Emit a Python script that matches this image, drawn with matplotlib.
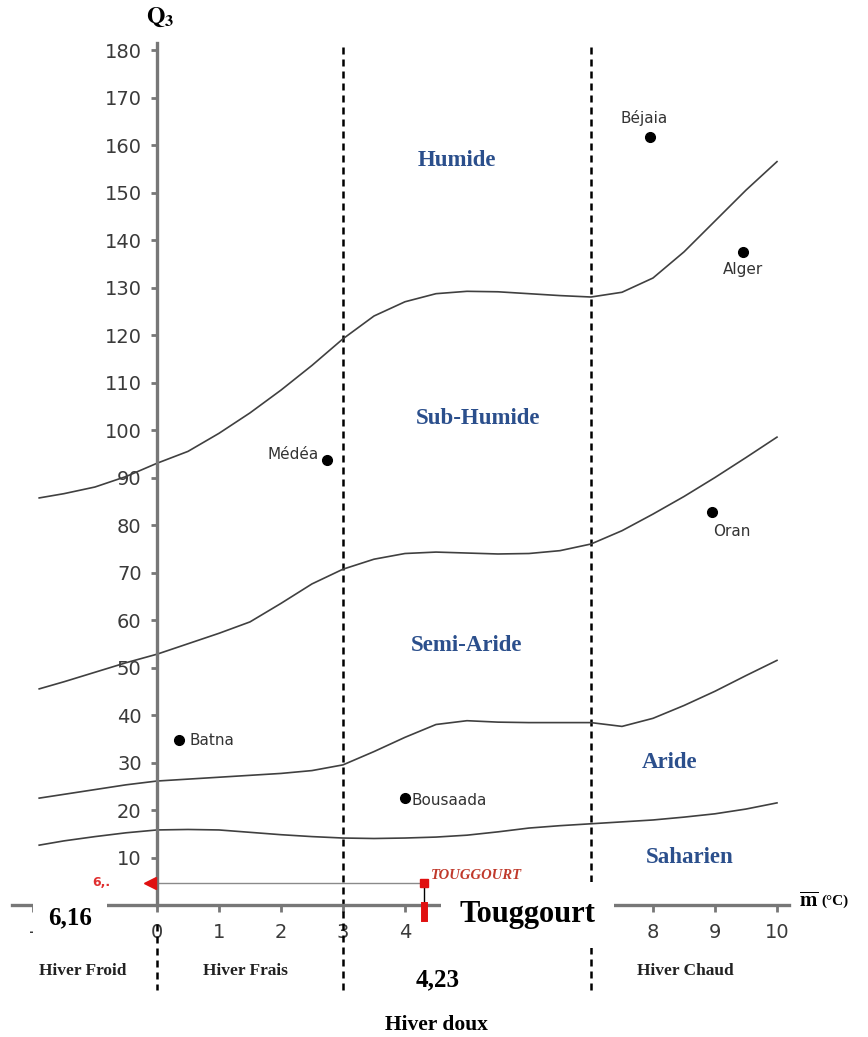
import matplotlib.pyplot as plt
from matplotlib import transforms

plt.rcParams['mathtext.fontset'] = 'stix'

# limit curves of the Emberger climagram (m in degC, Q3)
m_pts = [-1.9, -1.5, -1, -0.5, 0, 0.5, 1, 1.5, 2, 2.5, 3, 3.5, 4, 4.5, 5,
         5.5, 6, 6.5, 7, 7.5, 8, 8.5, 9, 9.5, 10]
humide_limit = [85.7, 86.6, 88.0, 90.2, 93.0, 95.5, 99.3, 103.6, 108.4, 113.6,
                119.2, 124.0, 127.0, 128.7, 129.2, 129.1, 128.7, 128.3, 128.0,
                129.0, 132.0, 137.5, 144.0, 150.5, 156.5]
subhumide_limit = [45.5, 47.0, 49.0, 51.0, 52.8, 55.0, 57.2, 59.6, 63.5, 67.6,
                   70.7, 72.8, 74.0, 74.3, 74.1, 73.9, 74.0, 74.6, 76.0, 78.8,
                   82.3, 86.0, 90.0, 94.2, 98.5]
semiaride_limit = [22.5, 23.3, 24.3, 25.3, 26.1, 26.5, 26.9, 27.3, 27.7, 28.3,
                   29.5, 32.3, 35.3, 38.0, 38.8, 38.5, 38.4, 38.4, 38.4, 37.6,
                   39.3, 42.0, 45.0, 48.3, 51.5]
aride_limit = [12.6, 13.5, 14.4, 15.2, 15.8, 15.9, 15.8, 15.3, 14.8, 14.4,
               14.1, 14.0, 14.1, 14.3, 14.7, 15.4, 16.2, 16.7, 17.1, 17.5,
               17.9, 18.5, 19.2, 20.2, 21.5]

stations = ['Béjaia', 'Alger', 'Médéa', 'Oran', 'Batna', 'Bousaada']
station_m = [7.95, 9.45, 2.75, 8.95, 0.35, 4.0]
station_q3 = [161.6, 137.4, 93.6, 82.7, 34.7, 22.6]
label_offsets = [(-4, 14), (0, -12), (-6, 4), (14, -14), (8, 0), (5, -2)]
label_align = ['center', 'center', 'right', 'center', 'left', 'left']

zones = ['Humide', 'Sub-Humide', 'Semi-Aride', 'Aride', 'Saharien']
zone_m = [4.84, 5.18, 5.0, 8.27, 8.6]
zone_q3 = [156.8, 102.5, 54.7, 29.9, 10.1]

# x tick labels (those under the white boxes are not visible in the original)
x_ticks = list(range(-2, 11))
x_ticklabels = ['-', '', '0', '1', '2', '3', '4', '', '', '', '8', '9', '10']

winter_limits = [0, 3, 7]
winters = ['Hiver Froid', 'Hiver Frais', 'Hiver Chaud']
winter_m = [-1.2, 1.42, 8.52]

tg_m = 4.3
tg_q3 = 4.7

fig = plt.figure(figsize=(8.68, 10.37), dpi=100)
ax = fig.add_axes([0, 0, 1, 1])
ax.set_xlim(-2.532, 11.468)
ax.set_ylim(-27.79, 190.53)

axis_col = '#777777'
for s in ['top', 'right']:
    ax.spines[s].set_visible(False)
ax.spines['left'].set_position(('data', 0))
ax.spines['bottom'].set_position(('data', 0))
ax.spines['left'].set_bounds(0, 181.5)
ax.spines['bottom'].set_bounds(-2.34, 10.2)
for s in ['left', 'bottom']:
    ax.spines[s].set_color(axis_col)
    ax.spines[s].set_linewidth(2.4)
    ax.spines[s].set_zorder(3)

ax.set_yticks(range(10, 190, 10))
ax.set_xticks(x_ticks)
ax.set_xticklabels(x_ticklabels)
ax.tick_params(axis='y', direction='out', length=4, width=2, color=axis_col,
               labelsize=14, labelcolor='#3a3a3a', pad=7)
ax.tick_params(axis='x', direction='out', length=5, width=2, color=axis_col,
               labelsize=14, labelcolor='#3a3a3a', pad=8)

# dashed winter limits
for xv in winter_limits[1:]:
    ax.plot([xv, xv], [-18, 181.5], color='black', lw=1.8, ls=(0, (2.8, 2)), zorder=2)
ax.plot([0, 0], [-4, -18], color='black', lw=1.8, ls=(0, (2.8, 2)), zorder=2)

for curve in [humide_limit, subhumide_limit, semiaride_limit, aride_limit]:
    ax.plot(m_pts, curve, color='#404040', lw=1.2, zorder=2)

ax.plot(station_m, station_q3, 'o', color='black', markersize=7, zorder=4)
for name, xm, yq, off, ha in zip(stations, station_m, station_q3, label_offsets, label_align):
    ax.annotate(name, (xm, yq), xytext=off, textcoords='offset points',
                ha=ha, va='center', fontsize=11, color='#333333')

for name, xm, yq in zip(zones, zone_m, zone_q3):
    ax.text(xm, yq, name, ha='center', va='center', fontsize=16.5,
            fontweight='bold', family='Liberation Serif', color='#2B4F8C')

for name, xm in zip(winters, winter_m):
    ax.text(xm, -13.8, name, ha='center', va='center', fontsize=12.5,
            fontweight='bold', family='Liberation Serif', color='#222222')

# Touggourt position
ax.plot([0, tg_m], [tg_q3, tg_q3], color='#8a8a8a', lw=1.0, zorder=3)
ax.plot([tg_m, tg_m], [0, tg_q3], color='black', lw=1.0, zorder=3)
shift_left = transforms.offset_copy(ax.transData, fig=fig, x=-7, y=0, units='dots')
ax.plot([0], [tg_q3], marker='<', color='#e01010', markersize=9, transform=shift_left, zorder=4)
ax.plot([tg_m], [tg_q3], marker='s', color='#e01010', markersize=6, zorder=4)
ax.plot([tg_m, tg_m], [0, -2.7], color='#e01010', lw=5, zorder=4)
ax.annotate('TOUGGOURT', (tg_m, tg_q3), xytext=(5, 5), textcoords='offset points',
            ha='left', va='center', fontsize=10.5, fontweight='bold', fontstyle='italic',
            family='Liberation Serif', color='#c0392b')
ax.annotate('6,.', (0, tg_q3), xytext=(-40, 0), textcoords='offset points',
            ha='center', va='center', fontsize=9, fontweight='bold', color='#e03030')

box = dict(boxstyle='square,pad=0.6', facecolor='white', edgecolor='none')
ax.text(-1.40, -2.7, '6,16', ha='center', va='center', fontsize=18,
        fontweight='bold', family='Liberation Serif', bbox=box, zorder=6)
ax.text(5.98, -2.1, 'Touggourt', ha='center', va='center', fontsize=22,
        fontweight='bold', family='Liberation Serif',
        bbox=dict(boxstyle='square,pad=0.6', facecolor='white', edgecolor='none'), zorder=6)
ax.text(4.52, -15.8, '4,23', ha='center', va='center', fontsize=18,
        fontweight='bold', family='Liberation Serif',
        bbox=dict(boxstyle='square,pad=0.35', facecolor='white', edgecolor='none'), zorder=6)
ax.text(4.5, -25.2, 'Hiver doux', ha='center', va='center', fontsize=15.5,
        fontweight='bold', family='Liberation Serif', zorder=6)

ax.text(0.05, 187.0, r'$\mathbf{Q_3}$', ha='center', va='center', fontsize=17)
ax.text(10.35, 0.8, r'$\overline{\mathbf{m}}$', ha='left', va='center', fontsize=15)
ax.text(10.72, 0.8, '(°C)', ha='left', va='center', fontsize=11,
        fontweight='bold', family='Liberation Serif')

fig.savefig('out.png', dpi=100, facecolor='white')
